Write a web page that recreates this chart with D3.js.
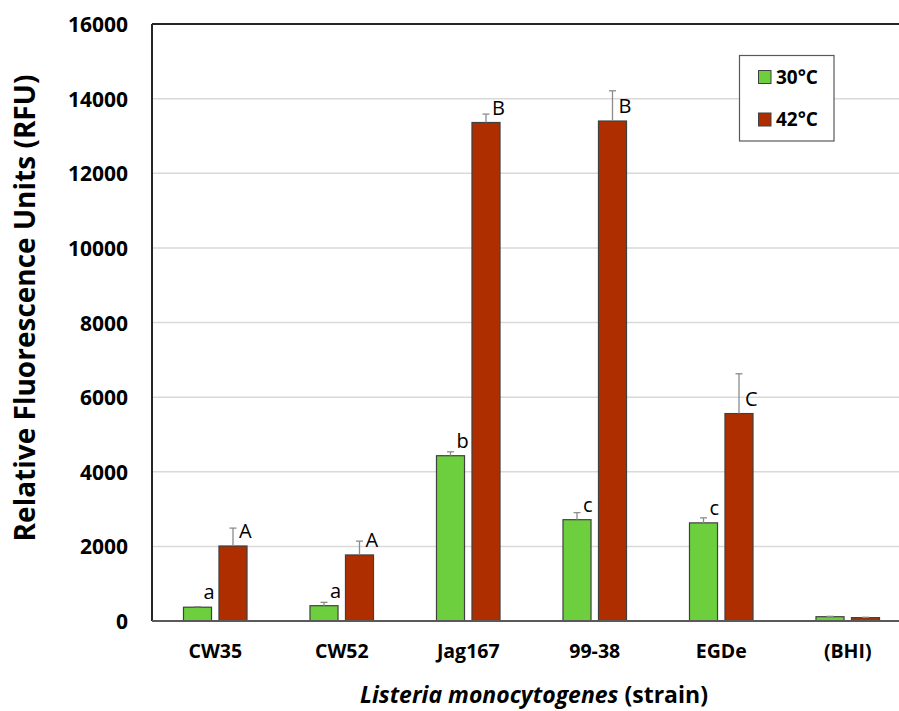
<!DOCTYPE html>
<html>
<head>
<meta charset="utf-8">
<script src="https://cdn.jsdelivr.net/npm/d3@7"></script>
<style>
  html, body { margin: 0; padding: 0; background: #fff; }
  svg { display: block; font-family: "Open Sans", sans-serif; }
</style>
</head>
<body>
<svg id="chart" width="899" height="711"></svg>
<script>
// ---- data ----
const categories = ["CW35", "CW52", "Jag167", "99-38", "EGDe", "(BHI)"];
const seriesNames = ["30°C", "42°C"];
const values30 = [370, 410, 4430, 2715, 2630, 115];
const errors30 = [15, 90, 105, 190, 135, 10];
const values42 = [2010, 1770, 13360, 13400, 5560, 90];
const errors42 = [480, 370, 225, 810, 1065, 10];
const letters30 = ["a", "a", "b", "c", "c", ""];
const letters42 = ["A", "A", "B", "B", "C", ""];
const yTicks = [0, 2000, 4000, 6000, 8000, 10000, 12000, 14000, 16000];
const colors = ["#6dcf3d", "#ae2e00"];

const series = [
  { name: seriesNames[0], values: values30, errors: errors30, letters: letters30, color: colors[0] },
  { name: seriesNames[1], values: values42, errors: errors42, letters: letters42, color: colors[1] }
];

const svg = d3.select("#chart");
const pLeft = 152, pRight = 911, pTop = 24, pBottom = 621;

const y = d3.scaleLinear().domain([0, 16000]).range([pBottom, pTop]);
const x0 = d3.scaleBand().domain(categories).range([pLeft, pRight]).padding(0);
const x1 = d3.scaleBand().domain(seriesNames).range([0, x0.bandwidth()])
  .paddingInner(0.21).paddingOuter(0.887);

// gridlines
svg.append("g").selectAll("line").data(yTicks.filter(d => d > 0 && d < 16000)).join("line")
  .attr("x1", pLeft).attr("x2", 899)
  .attr("y1", d => y(d)).attr("y2", d => y(d))
  .attr("stroke", "#d9d9d9").attr("stroke-width", 1.5);

// y axis tick labels
const yAxis = d3.axisLeft(y).tickValues(yTicks).tickSize(0).tickPadding(24).tickFormat(d3.format("d"));
const gy = svg.append("g").attr("transform", `translate(${pLeft},0)`).call(yAxis);
gy.select(".domain").remove();
gy.selectAll("text").attr("font-family", "Open Sans").attr("font-weight", "bold")
  .attr("font-size", 21).attr("fill", "#000").attr("dy", "0.36em");

// bars
const groups = svg.append("g").selectAll("g").data(series).join("g");
groups.selectAll("rect").data(s => categories.map((c, i) => ({ c, v: s.values[i], s }))).join("rect")
  .attr("x", d => x0(d.c) + x1(d.s.name))
  .attr("width", x1.bandwidth())
  .attr("y", d => y(d.v))
  .attr("height", d => y(0) - y(d.v))
  .attr("fill", d => d.s.color)
  .attr("stroke", "#404040").attr("stroke-width", 1.2);

// error bars (upper)
const eg = svg.append("g").attr("stroke", "#8c8c8c").attr("stroke-width", 1.3);
series.forEach(s => {
  categories.forEach((c, i) => {
    const cx = x0(c) + x1(s.name) + x1.bandwidth() / 2;
    eg.append("line").attr("x1", cx).attr("x2", cx)
      .attr("y1", y(s.values[i])).attr("y2", y(s.values[i] + s.errors[i]));
    eg.append("line").attr("x1", cx - 3.5).attr("x2", cx + 3.5)
      .attr("y1", y(s.values[i] + s.errors[i])).attr("y2", y(s.values[i] + s.errors[i]));
  });
});

// significance letters
series.forEach(s => {
  svg.append("g").selectAll("text").data(categories.map((c, i) => ({ c, i }))).join("text")
    .attr("x", d => x0(d.c) + x1(s.name) + x1.bandwidth() / 2 + 6)
    .attr("y", d => y(s.values[d.i]) - 8)
    .attr("font-size", 20).attr("fill", "#000")
    .text(d => s.letters[d.i]);
});

// axes lines
svg.append("line").attr("x1", pLeft).attr("x2", pLeft).attr("y1", pTop).attr("y2", pBottom)
  .attr("stroke", "#262626").attr("stroke-width", 2);
svg.append("line").attr("x1", pLeft).attr("x2", 899).attr("y1", pTop).attr("y2", pTop)
  .attr("stroke", "#262626").attr("stroke-width", 2);
svg.append("line").attr("x1", pLeft).attr("x2", 899).attr("y1", pBottom).attr("y2", pBottom)
  .attr("stroke", "#595959").attr("stroke-width", 2);

// x category labels
svg.append("g").selectAll("text").data(categories).join("text")
  .attr("x", d => x0(d) + x0.bandwidth() / 2)
  .attr("y", 658)
  .attr("text-anchor", "middle")
  .attr("font-weight", "bold").attr("font-size", 19.5).attr("fill", "#000")
  .text(d => d);

// x title
const xt = svg.append("text").attr("x", 534).attr("y", 703).attr("text-anchor", "middle")
  .attr("font-weight", "bold").attr("font-size", 23).attr("fill", "#000");
xt.append("tspan").attr("font-style", "italic").text("Listeria monocytogenes");
xt.append("tspan").text(" (strain)");

// y title
svg.append("text")
  .attr("transform", "translate(35,308) rotate(-90)")
  .attr("text-anchor", "middle")
  .attr("font-weight", "bold").attr("font-size", 28).attr("fill", "#000")
  .text("Relative Fluorescence Units (RFU)");

// legend
const lg = svg.append("g");
lg.append("rect").attr("x", 739.5).attr("y", 55.5).attr("width", 94.5).attr("height", 85.5)
  .attr("fill", "#fff").attr("stroke", "#595959").attr("stroke-width", 1.2);
series.forEach((s, i) => {
  const cy = 77 + i * 42.5;
  lg.append("rect").attr("x", 758.5).attr("y", cy - 6.5).attr("width", 12.5).attr("height", 13)
    .attr("fill", s.color).attr("stroke", "#404040").attr("stroke-width", 1);
  lg.append("text").attr("x", 776).attr("y", cy).attr("dy", "0.36em")
    .attr("font-weight", "bold").attr("font-size", 19).attr("fill", "#000").text(s.name);
});
</script>
</body>
</html>
